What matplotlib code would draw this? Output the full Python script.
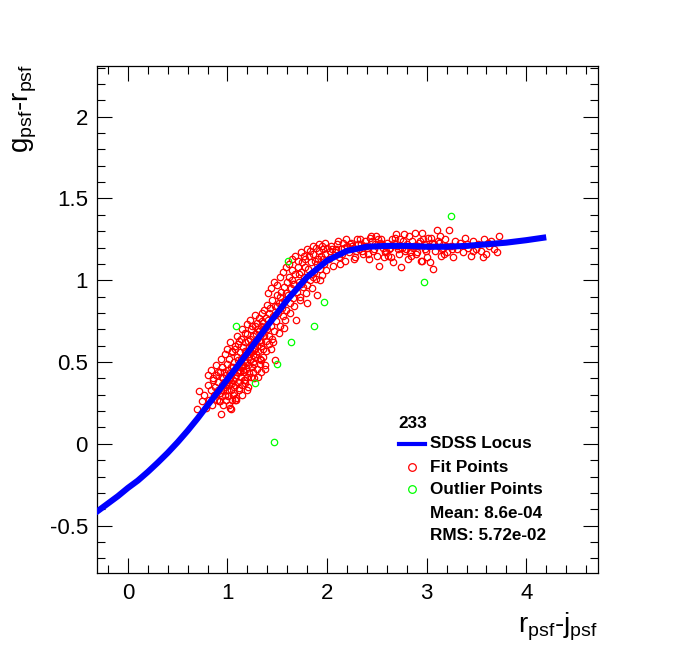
import matplotlib
matplotlib.use("Agg")
import matplotlib.pyplot as plt
from matplotlib.lines import Line2D
from matplotlib.ticker import MultipleLocator, FuncFormatter

plt.rcParams['font.family'] = ['Liberation Sans', 'DejaVu Sans']
plt.rcParams['mathtext.fontset'] = 'custom'
plt.rcParams['mathtext.rm'] = 'Liberation Sans'

# SDSS locus
locus_x = [-0.3, -0.2, -0.1, 0.0, 0.1, 0.2, 0.3, 0.4, 0.5, 0.6, 0.7, 0.8, 0.9,
           1.0, 1.2, 1.4, 1.6, 1.8, 2.0, 2.2, 2.4, 2.6, 2.8, 3.0, 3.2, 3.4,
           3.6, 3.8, 4.0, 4.17]
locus_y = [-0.41, -0.365, -0.32, -0.27, -0.225, -0.172, -0.115, -0.055, 0.01,
           0.08, 0.155, 0.235, 0.315, 0.395, 0.555, 0.72, 0.88, 1.02, 1.12, 1.18,
           1.205, 1.21, 1.21, 1.205, 1.205, 1.21, 1.22, 1.23, 1.245, 1.26]

# fit points (red)
fit_x = [
    0.69, 0.71, 0.74, 0.76, 0.78, 0.80, 0.81, 0.83, 0.84, 0.85,
    0.86, 0.87, 0.88, 0.89, 0.90, 0.90, 0.91, 0.92, 0.92, 0.93,
    0.94, 0.94, 0.95, 0.95, 0.96, 0.96, 0.97, 0.97, 0.98, 0.98,
    0.99, 0.99, 1.00, 1.00, 1.00,
    1.01, 1.01, 1.02, 1.02, 1.03, 1.03, 1.04, 1.04, 1.05, 1.05,
    1.06, 1.06, 1.07, 1.07, 1.08, 1.08, 1.09, 1.09, 1.10, 1.10,
    1.11, 1.11, 1.12, 1.12, 1.13, 1.13, 1.14, 1.14, 1.15, 1.15,
    1.16, 1.16, 1.17, 1.17, 1.18, 1.18, 1.19, 1.19, 1.20, 1.20,
    1.21, 1.21, 1.22, 1.22, 1.23, 1.23, 1.24, 1.24, 1.25, 1.25,
    1.26, 1.26, 1.27, 1.27, 1.28, 1.28, 1.29, 1.29, 1.30, 1.30,
    1.03, 1.07, 1.13, 1.18, 1.23, 1.28, 1.05, 1.11, 1.16, 1.21,
    1.04, 1.075, 0.92, 1.18, 1.34,
    0.80, 0.83, 0.85, 0.88, 0.90, 0.93, 0.95, 0.98, 1.00, 1.03,
    1.05, 1.08, 1.10, 1.12, 1.15, 1.18, 1.20, 1.23, 1.25, 1.28,
    1.02, 1.06, 1.09, 1.12, 1.15, 1.18, 1.21, 1.24, 1.27, 1.30,
    1.33, 1.36, 1.39, 1.42, 1.45, 1.48, 1.38, 1.31, 1.26, 1.20,
    0.96, 0.99, 1.02, 1.04, 1.06, 1.08, 1.10, 1.12, 1.14, 1.16,
    1.18, 1.20, 1.22, 1.24, 1.26, 1.28, 1.30, 1.32, 1.34, 1.36,
    1.31, 1.31, 1.32, 1.32, 1.33, 1.33, 1.34, 1.34, 1.35, 1.35,
    1.36, 1.36, 1.37, 1.37, 1.38, 1.38, 1.39, 1.39, 1.40, 1.40,
    1.41, 1.42, 1.43, 1.44, 1.45, 1.46, 1.47, 1.48, 1.49, 1.50,
    1.51, 1.52, 1.53, 1.54, 1.55, 1.56, 1.57, 1.58, 1.59, 1.60,
    1.42, 1.46, 1.50, 1.53, 1.57, 1.35, 1.44, 1.55, 1.34, 1.48,
    1.41, 1.44, 1.47, 1.50, 1.53, 1.56, 1.59, 1.62, 1.65, 1.68,
    1.71, 1.74, 1.77, 1.80, 1.83, 1.86, 1.89, 1.92, 1.95, 1.98,
    1.52, 1.58, 1.63, 1.67, 1.73, 1.59, 1.66, 1.74, 1.80, 1.86,
    1.61, 1.62, 1.63, 1.64, 1.65, 1.66, 1.67, 1.68, 1.69, 1.70,
    1.71, 1.72, 1.73, 1.74, 1.75, 1.76, 1.77, 1.78, 1.79, 1.80,
    1.81, 1.82, 1.83, 1.84, 1.85, 1.86, 1.87, 1.88, 1.89, 1.90,
    1.91, 1.92, 1.93, 1.94, 1.95, 1.96, 1.97, 1.98, 1.99, 2.00,
    2.02, 2.04, 2.06, 2.08, 2.10, 2.12, 2.14, 2.16, 2.18, 2.20,
    1.65, 1.72, 1.78, 1.84, 1.90, 1.96, 2.03, 2.09, 2.15, 1.93,
    2.22, 2.24, 2.26, 2.28, 2.30, 2.32, 2.34, 2.36, 2.38, 2.40,
    2.42, 2.44, 2.46, 2.48, 2.50, 2.52, 2.54, 2.56, 2.58, 2.60,
    2.62, 2.64, 2.66, 2.68, 2.70, 2.72, 2.74, 2.76, 2.78, 2.80,
    2.82, 2.84, 2.86, 2.88, 2.90, 2.92, 2.94, 2.96, 2.98, 3.00,
    3.02, 3.04, 3.06, 3.08, 3.10, 3.12, 3.14, 3.16, 3.18, 3.20,
    3.22, 3.24, 3.26, 3.28, 3.30, 2.25, 2.35, 2.45, 2.55, 2.65,
    2.75, 2.85, 2.95, 3.05, 3.15, 2.31, 2.51, 2.71, 2.91, 3.11,
    2.43, 2.63, 2.83, 2.95, 3.01, 2.37, 2.57, 2.77, 2.97, 3.17,
    2.05, 2.11, 2.17, 2.23, 2.29, 2.33, 2.39, 2.47, 2.53, 2.59,
    2.67, 2.73, 2.79, 2.87, 2.93, 2.99, 3.07, 3.13, 3.19, 3.25,
    2.27, 2.41, 2.49, 2.61, 2.69, 2.81, 2.89, 3.03, 2.13, 2.19,
    3.33, 3.36, 3.38, 3.41, 3.44, 3.47, 3.50, 3.52, 3.55, 3.58,
    3.60, 3.63, 3.65, 3.68, 3.71, 3.73, 3.40, 3.57, 3.46, 3.62,
]
fit_y = [
    0.21, 0.32, 0.26, 0.30, 0.22, 0.36, 0.27, 0.33, 0.24, 0.40,
    0.30, 0.35, 0.42, 0.27, 0.33, 0.38, 0.26, 0.44, 0.31, 0.18,
    0.36, 0.29, 0.41, 0.47, 0.33, 0.24, 0.38, 0.44, 0.30, 0.35,
    0.27, 0.42, 0.33, 0.49, 0.38,
    0.29, 0.45, 0.36, 0.52, 0.22, 0.40, 0.33, 0.47, 0.27, 0.56,
    0.39, 0.44, 0.31, 0.50, 0.36, 0.58, 0.42, 0.28, 0.47, 0.53,
    0.38, 0.61, 0.45, 0.33, 0.50, 0.56, 0.41, 0.64, 0.47, 0.36,
    0.53, 0.59, 0.44, 0.39, 0.62, 0.50, 0.46, 0.56, 0.41, 0.67,
    0.53, 0.48, 0.59, 0.43, 0.64, 0.51, 0.56, 0.70, 0.47, 0.61,
    0.54, 0.66, 0.58, 0.49, 0.72, 0.62, 0.55, 0.67, 0.60, 0.74,
    0.43, 0.35, 0.44, 0.54, 0.57, 0.53, 0.37, 0.51, 0.48, 0.63,
    0.21, 0.265, 0.26, 0.39, 0.51,
    0.42, 0.45, 0.39, 0.48, 0.44, 0.52, 0.47, 0.55, 0.58, 0.62,
    0.57, 0.60, 0.66, 0.63, 0.70, 0.68, 0.73, 0.76, 0.72, 0.79,
    0.24, 0.30, 0.27, 0.34, 0.30, 0.37, 0.35, 0.41, 0.40, 0.46,
    0.49, 0.53, 0.57, 0.61, 0.64, 0.51, 0.46, 0.41, 0.44, 0.33,
    0.40, 0.36, 0.39, 0.42, 0.47, 0.40, 0.44, 0.49, 0.52, 0.45,
    0.57, 0.50, 0.55, 0.60, 0.50, 0.58, 0.64, 0.69, 0.62, 0.70,
    0.57, 0.70, 0.63, 0.77, 0.52, 0.66, 0.72, 0.60, 0.80, 0.68,
    0.58, 0.74, 0.66, 0.82, 0.71, 0.48, 0.77, 0.63, 0.85, 0.70,
    0.76, 0.66, 0.83, 0.72, 0.88, 0.78, 0.69, 0.84, 0.75, 0.91,
    0.80, 0.86, 0.72, 0.93, 0.83, 0.78, 0.96, 0.88, 0.82, 0.99,
    0.80, 0.62, 0.84, 0.90, 0.71, 0.75, 0.58, 0.87, 0.44, 0.79,
    0.92, 0.95, 0.99, 0.97, 1.02, 1.05, 1.08, 1.10, 1.13, 1.15,
    1.12, 1.17, 1.15, 1.19, 1.18, 1.21, 1.20, 1.22, 1.21, 1.23,
    0.68, 0.76, 0.80, 0.84, 0.88, 0.92, 0.98, 0.98, 0.97, 1.02,
    0.91, 1.02, 0.86, 0.95, 1.06, 0.89, 0.98, 1.04, 0.76, 0.93,
    1.08, 0.99, 0.90, 1.05, 1.11, 0.96, 1.02, 1.13, 0.92, 0.86,
    1.07, 1.15, 1.00, 1.11, 0.95, 1.16, 1.05, 1.12, 1.01, 0.91,
    1.13, 1.18, 1.07, 1.15, 1.03, 1.19, 1.10, 1.16, 1.06, 1.20,
    1.13, 1.21, 1.09, 1.17, 1.22, 1.14, 1.19, 1.23, 1.12, 1.21,
    1.00, 1.04, 1.08, 1.04, 1.10, 1.13, 1.18, 1.19, 1.16, 1.00,
    1.17, 1.23, 1.20, 1.14, 1.25, 1.19, 1.22, 1.16, 1.24, 1.20,
    1.13, 1.27, 1.18, 1.22, 1.15, 1.09, 1.25, 1.20, 1.17, 1.23,
    1.19, 1.14, 1.11, 1.26, 1.21, 1.16, 1.08, 1.24, 1.18, 1.22,
    1.27, 1.15, 1.20, 1.29, 1.17, 1.23, 1.12, 1.25, 1.19, 1.14,
    1.21, 1.26, 1.07, 1.18, 1.31, 1.23, 1.15, 1.20, 1.25, 1.17,
    1.31, 1.21, 1.14, 1.24, 1.19, 1.21, 1.18, 1.24, 1.22, 1.25,
    1.20, 1.24, 1.29, 1.23, 1.19, 1.22, 1.25, 1.19, 1.21, 1.24,
    1.26, 1.20, 1.17, 1.12, 1.26, 1.21, 1.14, 1.28, 1.22, 1.16,
    1.19, 1.24, 1.20, 1.22, 1.18, 1.25, 1.21, 1.19, 1.23, 1.18,
    1.23, 1.25, 1.19, 1.21, 1.24, 1.18, 1.22, 1.27, 1.21, 1.19,
    1.13, 1.16, 1.27, 1.15, 1.28, 1.13, 1.16, 1.11, 1.10, 1.25,
    1.23, 1.17, 1.26, 1.20, 1.15, 1.24, 1.19, 1.22, 1.18, 1.25,
    1.16, 1.21, 1.24, 1.19, 1.17, 1.27, 1.22, 1.14, 1.18, 1.23,
]

# outlier points (green)
out_x = [1.09, 1.97, 1.87, 1.64, 1.50, 1.28, 3.24, 1.61, 2.97, 1.47]
out_y = [0.72, 0.87, 0.72, 0.62, 0.49, 0.37, 1.39, 1.12, 0.99, 0.01]

legend_header = "233"
legend_labels = ["SDSS Locus", "Fit Points", "Outlier Points"]
stats_lines = ["Mean: 8.6e-04", "RMS: 5.72e-02"]

W, H = 696, 652
fig = plt.figure(figsize=(W / 100, H / 100), dpi=100)
ax = fig.add_axes([97 / W, 1 - 573 / H, 501 / W, 507 / H])

ax.plot(fit_x, fit_y, 'o', mfc='none', mec='#ff0000', ms=4.6, mew=0.9, zorder=2)
ax.plot(out_x, out_y, 'o', mfc='none', mec='#00ff00', ms=4.6, mew=0.9, zorder=3)
ax.plot(locus_x, locus_y, '-', color='#0000ff', lw=4.4, zorder=4)

ax.set_xlim(-0.31, 4.72)
ax.set_ylim(-0.79, 2.31)
ax.xaxis.set_major_locator(MultipleLocator(1))
ax.xaxis.set_minor_locator(MultipleLocator(0.2))
ax.yaxis.set_major_locator(MultipleLocator(0.5))
ax.yaxis.set_minor_locator(MultipleLocator(0.1))
fmt = FuncFormatter(lambda v, pos: '{:g}'.format(round(v, 3) + 0.0))
ax.xaxis.set_major_formatter(fmt)
ax.yaxis.set_major_formatter(fmt)
ax.tick_params(which='both', direction='in', top=True, right=True, width=0.8,
               labelsize=16)
ax.tick_params(which='major', length=11)
ax.tick_params(which='minor', length=5.8)
ax.tick_params(axis='x', pad=7)
ax.tick_params(axis='y', pad=6.5)
for s in ax.spines.values():
    s.set_linewidth(0.9)

# axis titles, ROOT style
fig.text(598 / W, 1 - 627 / H, r'r$_{\mathregular{psf}}$-j$_{\mathregular{psf}}$',
         ha='right', va='center', fontsize=20)
fig.text(25 / W, 1 - 64 / H, r'g$_{\mathregular{psf}}$-r$_{\mathregular{psf}}$',
         ha='center', va='top', rotation=90, fontsize=20)

# legend drawn by hand
fs = 12.3
fig.text(398 / W, 1 - 423 / H, legend_header, ha='left', va='center',
         fontsize=fs, fontweight='bold')
fig.add_artist(Line2D([399 / W, 425 / W], [1 - 444 / H, 1 - 444 / H],
                      color='#0000ff', lw=3.0, transform=fig.transFigure))
fig.add_artist(Line2D([412 / W], [1 - 467 / H], marker='o', mfc='none',
                      mec='#ff0000', ms=5.5, mew=0.9, transform=fig.transFigure))
fig.add_artist(Line2D([412 / W], [1 - 489 / H], marker='o', mfc='none',
                      mec='#00ff00', ms=5.5, mew=0.9, transform=fig.transFigure))
rows = [444, 467, 489]
for lab, yy in zip(legend_labels, rows):
    fig.text(430 / W, 1 - yy / H, lab, ha='left', va='center',
             fontsize=fs, fontweight='bold')
for lab, yy in zip(stats_lines, [513, 536]):
    fig.text(430 / W, 1 - yy / H, lab, ha='left', va='center',
             fontsize=fs, fontweight='bold')

fig.savefig('out.png', dpi=100)
